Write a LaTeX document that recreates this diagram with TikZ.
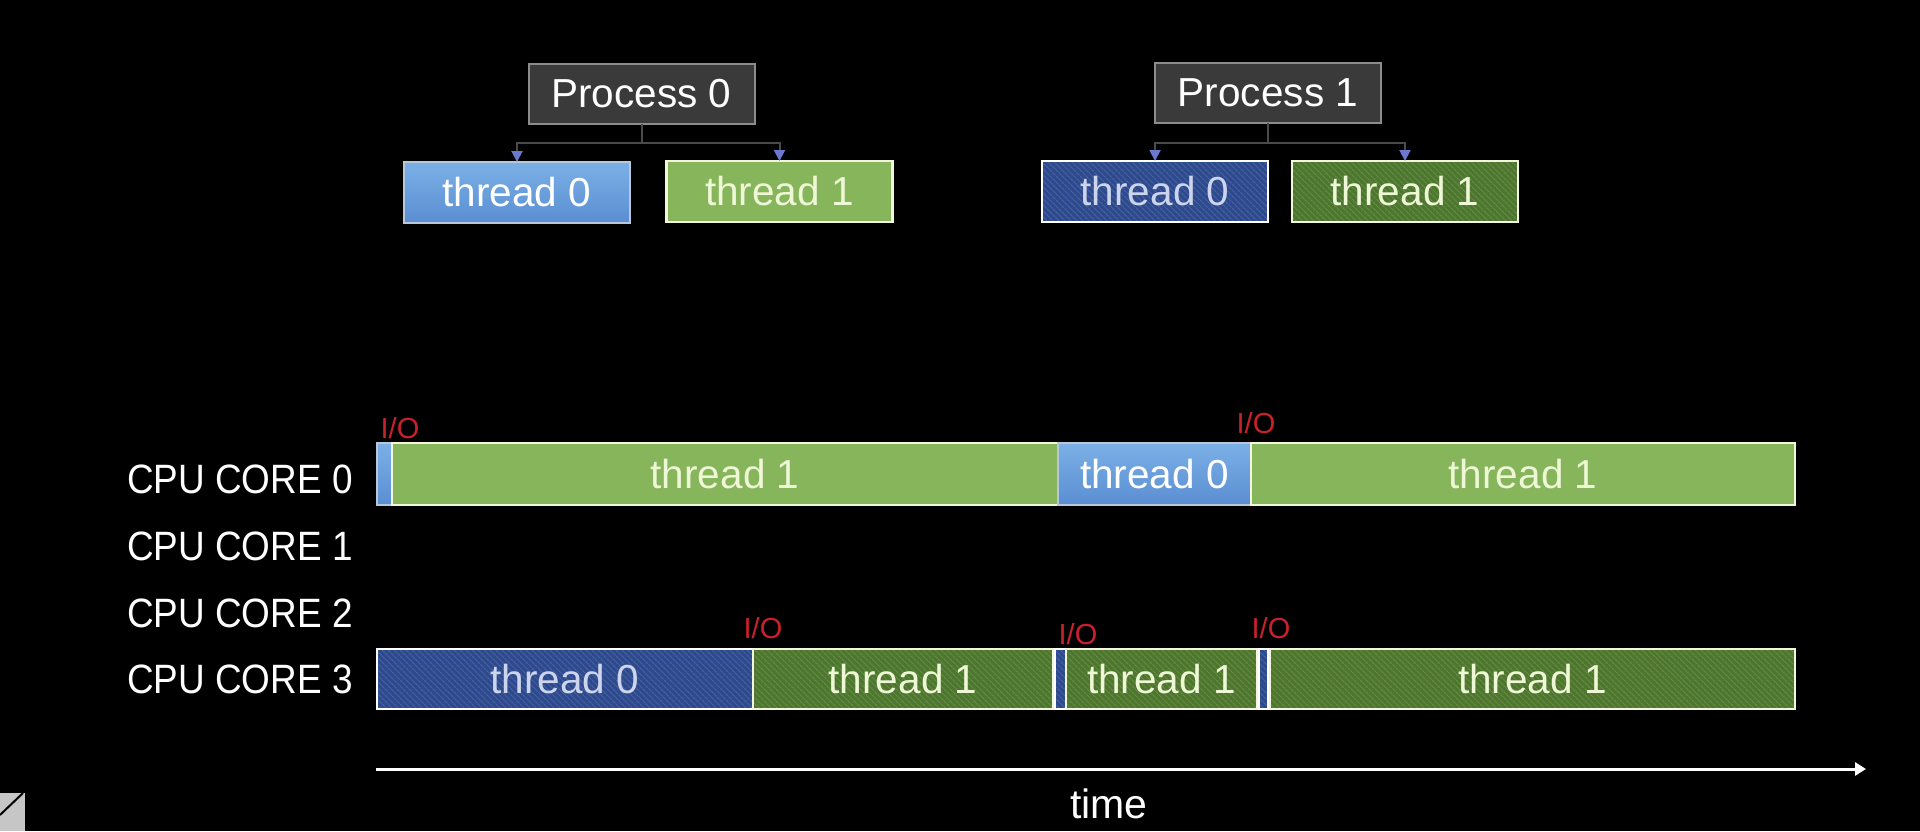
\documentclass[tikz,border=0pt]{standalone}
\usepackage{fontspec}
\setmainfont{Liberation Sans}
\newfontfamily\cpufont[FakeStretch=0.9]{Liberation Sans}
\usetikzlibrary{arrows.meta,patterns.meta}
\definecolor{cprocfill}{HTML}{3A3A3A}
\definecolor{cprocbd}{HTML}{8C8C8C}
\definecolor{clbtop}{HTML}{7BB0E6}
\definecolor{clbbot}{HTML}{5A8ED2}
\definecolor{clbbd}{HTML}{B8C8DC}
\definecolor{clgreen}{HTML}{86B55B}
\definecolor{ccream}{HTML}{F4F6DC}
\definecolor{cgtext}{HTML}{EEF7D6}
\definecolor{cdblue}{HTML}{2D4A8E}
\definecolor{cdbhatch}{HTML}{4A63A0}
\definecolor{cdbtext}{HTML}{CDD5EC}
\definecolor{cdgreen}{HTML}{4C7730}
\definecolor{cdghatch}{HTML}{6C8A40}
\definecolor{cconn}{HTML}{4A4A4A}
\definecolor{carrow}{HTML}{6A78D0}
\definecolor{cio}{HTML}{C8202C}
\tikzset{
  box/.style={draw, inner sep=0pt, outer sep=0pt, line width=2pt,
    font=\fontsize{40.5}{48}\selectfont},
  procbox/.style={box, fill=cprocfill, draw=cprocbd, minimum width=226pt,
    minimum height=60pt, text=white},
  lbluebox/.style={box, draw=clbbd, top color=clbtop, bottom color=clbbot,
    text=white},
  lgreenbox/.style={box, draw=ccream, line width=2.5pt, fill=clgreen, text=cgtext},
  dbluebox/.style={box, draw=white, preaction={fill=cdblue},
    pattern={Lines[angle=-45,distance=4pt,line width=1.1pt]},
    pattern color=cdbhatch, text=cdbtext},
  dgreenbox/.style={box, draw=ccream, preaction={fill=cdgreen},
    pattern={Lines[angle=-45,distance=4pt,line width=1.1pt]},
    pattern color=cdghatch, text=cgtext},
  treebox/.style={minimum width=226pt, minimum height=61pt},
  seg0/.style={anchor=west, minimum height=62pt},
  seg3/.style={anchor=west, minimum height=60pt},
  conn/.style={draw=cconn, line width=2pt},
  connarrow/.style={conn, -{Triangle[width=11pt,length=11pt,color=carrow]}},
  iolabel/.style={inner sep=0pt, text=cio, font=\fontsize{29}{34}\selectfont},
  corelabel/.style={inner sep=0pt, anchor=base west, text=white,
    font=\cpufont\fontsize{41}{48}\selectfont},
  timeaxis/.style={draw=white, line width=3pt, -{Triangle[width=13pt,length=11pt]}}
}
\begin{document}
\begin{tikzpicture}[x=1pt,y=-1pt]
\fill[black] (0,0) rectangle (1920,831);
\useasboundingbox (0,0) rectangle (1920,831);

% bottom-left artifact
\fill[gray!45] (0,793) rectangle (25,831);
\draw[black, line width=2pt] (0,815) -- (23,793);

% process trees
\node[procbox] (p0) at (641.5,93.5) {Process 0};
\node[lbluebox, treebox] (t00) at (517,192.5) {thread 0};
\node[lgreenbox, treebox] (t01) at (779.5,191.5) {thread 1};
\coordinate (p0j) at (641.5,143);
\draw[conn] (p0.south) -- (p0j);
\draw[connarrow] (p0j) -| (t00.north);
\draw[connarrow] (p0j) -| (t01.north);

\node[procbox] (p1) at (1268,93) {Process 1};
\node[dbluebox, treebox] (t10) at (1155,191.5) {thread 0};
\node[dgreenbox, treebox] (t11) at (1405,191.5) {thread 1};
\coordinate (p1j) at (1268,143);
\draw[conn] (p1.south) -- (p1j);
\draw[connarrow] (p1j) -| (t10.north);
\draw[connarrow] (p1j) -| (t11.north);

% core labels
\node[corelabel] (core0) at (127,493) {CPU CORE 0};
\node[corelabel] (core1) at (127,560) {CPU CORE 1};
\node[corelabel] (core2) at (127,627) {CPU CORE 2};
\node[corelabel] (core3) at (127,693) {CPU CORE 3};

% core 0 timeline
\node[lbluebox, seg0, minimum width=15pt] (c0a) at (377,474) {};
\node[lgreenbox, seg0, minimum width=666pt] (c0b) at (392,474) {thread 1};
\node[lbluebox, seg0, minimum width=193pt] (c0c) at (1058,474) {thread 0};
\node[lgreenbox, seg0, minimum width=544pt] (c0d) at (1251,474) {thread 1};
\node[iolabel] (io1) at (400,428) {I/O};
\node[iolabel] (io2) at (1256,423) {I/O};

% core 3 timeline
\node[dbluebox, seg3, minimum width=376pt] (c3a) at (377,679) {thread 0};
\node[dgreenbox, seg3, minimum width=300pt] (c3b) at (753,679) {thread 1};
\node[dbluebox, seg3, minimum width=11pt] (c3c) at (1055,679) {};
\node[dgreenbox, seg3, minimum width=191pt] (c3d) at (1066,679) {thread 1};
\node[dbluebox, seg3, minimum width=9pt] (c3e) at (1259,679) {};
\node[dgreenbox, seg3, minimum width=525pt] (c3f) at (1270,679) {thread 1};
\node[iolabel] (io3) at (763,628) {I/O};
\node[iolabel] (io4) at (1078,634) {I/O};
\node[iolabel] (io5) at (1271,628) {I/O};

% time axis
\coordinate (ts) at (376,769);
\coordinate (te) at (1866,769);
\draw[timeaxis] (ts) -- (te);
\node[inner sep=0pt, text=white, font=\fontsize{41}{48}\selectfont] (timelbl) at (1109,804) {time};
\end{tikzpicture}
\end{document}
